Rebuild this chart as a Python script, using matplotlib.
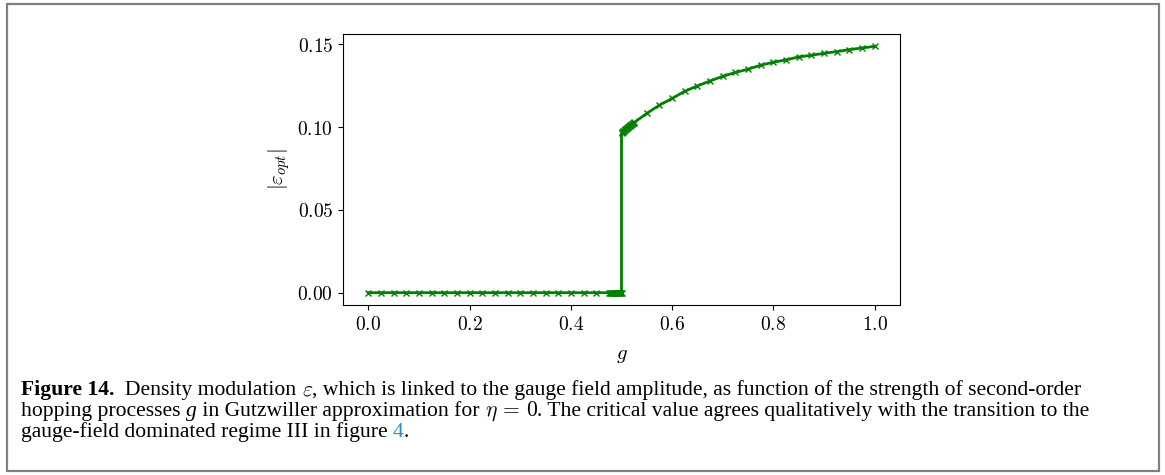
import matplotlib
matplotlib.use("Agg")
import matplotlib.pyplot as plt
from matplotlib.patches import Rectangle

plt.rcParams["mathtext.fontset"] = "cm"

# Gutzwiller result, eta = 0: zero branch up to the critical g
g_low = [0.0, 0.025, 0.05, 0.075, 0.1, 0.125, 0.15, 0.175, 0.2, 0.225,
         0.25, 0.275, 0.3, 0.325, 0.35, 0.375, 0.4, 0.425, 0.45, 0.475,
         0.4775, 0.479, 0.48, 0.4815, 0.483, 0.4845, 0.486, 0.4875, 0.489, 0.4905,
         0.492, 0.4935, 0.495, 0.4965, 0.498, 0.499, 0.5]
eps_low = [0.0] * len(g_low)

# finite density modulation above the transition
g_high = [0.5, 0.50125, 0.5025, 0.50375, 0.505, 0.50625, 0.5075, 0.50875, 0.51, 0.51125,
          0.5125, 0.51375, 0.515, 0.51625, 0.5175, 0.51875, 0.52, 0.52125, 0.5225, 0.52375,
          0.525, 0.55, 0.575, 0.6, 0.625, 0.65, 0.675, 0.7, 0.725, 0.75,
          0.775, 0.8, 0.825, 0.85, 0.875, 0.9, 0.925, 0.95, 0.975, 1.0]
eps_high = [0.0964, 0.0968, 0.0972, 0.0976, 0.0979, 0.0983, 0.0986, 0.0990, 0.0993, 0.0996,
            0.0999, 0.1002, 0.1005, 0.1008, 0.1011, 0.1014, 0.1017, 0.1020, 0.1022, 0.1025,
            0.1028, 0.1083, 0.1133, 0.1173, 0.1217, 0.1249, 0.1279, 0.1307, 0.1330, 0.1350,
            0.1374, 0.1392, 0.1406, 0.1424, 0.1434, 0.1446, 0.1456, 0.1468, 0.1478, 0.1488]

x_ticks = [0.0, 0.2, 0.4, 0.6, 0.8, 1.0]
x_tick_labels = ["0.0", "0.2", "0.4", "0.6", "0.8", "1.0"]
y_ticks = [0.0, 0.05, 0.10, 0.15]
y_tick_labels = ["0.00", "0.05", "0.10", "0.15"]

W, H = 1165, 475
fig = plt.figure(figsize=(W / 100, H / 100), dpi=100)

# grey frame round the whole figure
fig.patches.append(Rectangle((7 / W, 4 / H), (1159 - 7) / W, (471 - 4) / H,
                             transform=fig.transFigure, fill=False,
                             edgecolor="#808080", linewidth=1.6))

ax = fig.add_axes([343 / W, 1 - 305 / H, (900 - 343) / W, (305 - 34) / H])
ax.plot(g_low + g_high, eps_low + eps_high, "x-", color="green",
        linewidth=2.0, markersize=5, markeredgewidth=1.0)
ax.set_xticks(x_ticks)
ax.set_xticklabels(["$" + s + "$" for s in x_tick_labels])
ax.set_yticks(y_ticks)
ax.set_yticklabels(["$" + s + "$" for s in y_tick_labels])
ax.tick_params(labelsize=14)
ax.set_xlabel(r"$g$", fontsize=15, labelpad=8)
ax.set_ylabel(r"$|\varepsilon_{opt}|$", fontsize=15)

renderer = fig.canvas.get_renderer()


def text_width(s, **kw):
    t = fig.text(0, 0, s + "|", **kw)
    w1 = t.get_window_extent(renderer).width
    t.remove()
    t = fig.text(0, 0, "|", **kw)
    w2 = t.get_window_extent(renderer).width
    t.remove()
    return w1 - w2


cap = dict(family="Liberation Serif", fontsize=15.6)
bold = dict(cap, weight="bold")
ital = dict(cap, style="italic")
link = dict(cap, color="#2b8ad6")


def caption_line(ypix, pieces, x=21):
    for s, kw in pieces:
        fig.text(x / W, 1 - ypix / H, s, va="baseline", **kw)
        x += text_width(s, **kw)


caption_line(395, [("Figure 14.", bold),
                   ("  Density modulation ", cap),
                   (r"$\varepsilon$", cap),
                   (", which is linked to the gauge field amplitude, as function of the strength of second-order", cap)])
caption_line(416, [("hopping processes ", cap),
                   ("g", ital),
                   (" in Gutzwiller approximation for ", cap),
                   (r"$\eta\,=\,0$", cap),
                   (". The critical value agrees qualitatively with the transition to the", cap)])
caption_line(437, [("gauge-field dominated regime III in figure ", cap),
                   ("4", link),
                   (".", cap)])

fig.savefig("out.png", dpi=100)
